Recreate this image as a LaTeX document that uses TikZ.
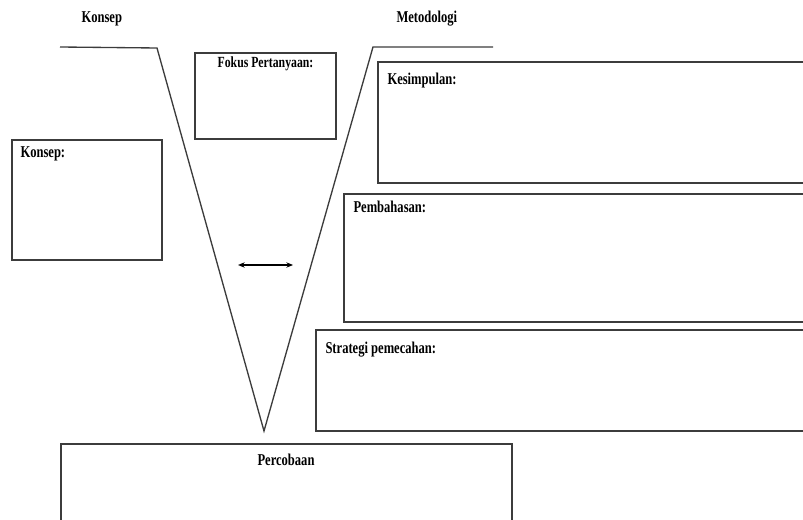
\documentclass[tikz,border=0pt]{standalone}
\usepackage{fontspec}
\setmainfont{Liberation Serif}[FakeStretch=0.76]
\usetikzlibrary{arrows.meta}
\definecolor{lineGray}{RGB}{60,60,60}
\tikzset{every picture/.style={line width=0.75pt},
  vline/.style={draw=lineGray,line width=1pt},
  boxline/.style={draw=lineGray,line width=1pt},
  label/.style={anchor=base west,inner sep=0pt,font=\fontsize{12.4}{14}\selectfont\bfseries},
  smalllabel/.style={anchor=base,inner sep=0pt,font=\fontsize{11.6}{13}\selectfont\bfseries}}

\begin{document}
\begin{tikzpicture}[x=0.75pt,y=0.75pt,yscale=-1,xscale=1]
\useasboundingbox (0,0) rectangle (803,520);
\clip (0,0) rectangle (803,520);

%Shape: V lines
\draw [vline] (60,47) -- (157,48) -- (264,431) -- (373,47) -- (493,47) ;
%Shape: Rectangle Fokus
\draw [boxline] (195,53) rectangle (336,139) ;
%Shape: Rectangle Konsep
\draw [boxline] (12,140) rectangle (162,260) ;
%Shape: Rectangle Kesimpulan
\draw [boxline] (810,62) -- (378,62) -- (378,183) -- (810,183) ;
%Shape: Rectangle Pembahasan
\draw [boxline] (810,194) -- (344,194) -- (344,322) -- (810,322) ;
%Shape: Rectangle Strategi
\draw [boxline] (810,330) -- (316,330) -- (316,431) -- (810,431) ;
%Shape: Rectangle Percobaan
\draw [boxline] (61,530) -- (61,444) -- (512,444) -- (512,530) ;

%Arrow between the arms
\coordinate (arrL) at (238,265) ;
\coordinate (arrR) at (293,265) ;
\draw [{Stealth[length=5pt,width=4pt]}-{Stealth[length=5pt,width=4pt]},line width=0.9pt] (arrL) -- (arrR) ;

% Text Node
\node [label] (tKonsep) at (81,23) {Konsep};
% Text Node
\node [label] (tMetodologi) at (396,23) {Metodologi};
% Text Node
\node [smalllabel] (tFokus) at (265.5,68) {Fokus Pertanyaan:};
% Text Node
\node [label] (tKesimpulan) at (387,85) {Kesimpulan:};
% Text Node
\node [label] (tKonsepBox) at (20,158) {Konsep:};
% Text Node
\node [label] (tPembahasan) at (353,213) {Pembahasan:};
% Text Node
\node [label] (tStrategi) at (325,353) {Strategi pemecahan:};
% Text Node
\node [label] (tPercobaan) at (257,465) {Percobaan};

\end{tikzpicture}
\end{document}
